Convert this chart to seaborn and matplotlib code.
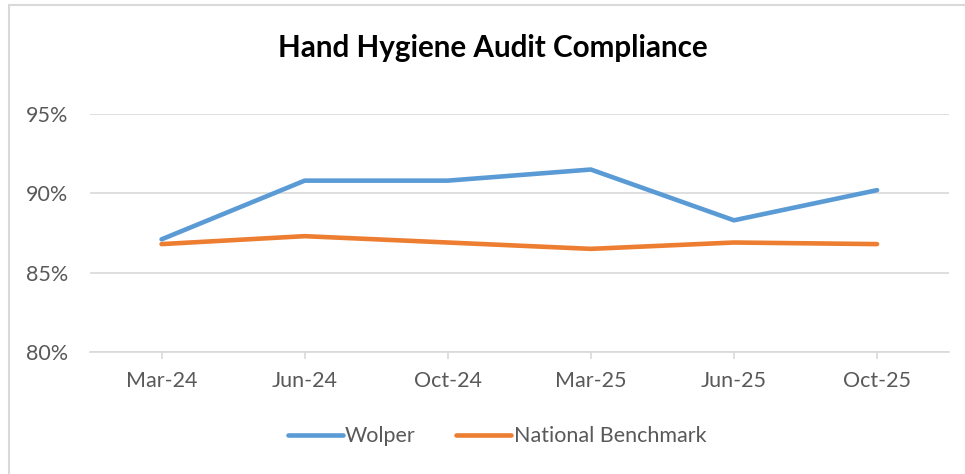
import pandas as pd
import seaborn as sns
import matplotlib.pyplot as plt
from matplotlib.lines import Line2D

months = ["Mar-24", "Jun-24", "Oct-24", "Mar-25", "Jun-25", "Oct-25"]
wolper = [87.1, 90.8, 90.8, 91.5, 88.3, 90.2]
benchmark = [86.8, 87.3, 86.9, 86.5, 86.9, 86.8]
series = ["Wolper", "National Benchmark"]
colors = ["#5B9BD5", "#ED7D31"]

df = pd.DataFrame({
    "Month": months * 2,
    "Compliance": wolper + benchmark,
    "Series": [series[0]] * len(months) + [series[1]] * len(months),
})
df["pos"] = list(range(len(months))) * 2

sns.set_style("white")
plt.rcParams["font.family"] = ["Lato", "DejaVu Sans"]

fig = plt.figure(figsize=(9.65, 4.74), dpi=100)
ax = fig.add_axes([0.0933, 0.2574, 0.8897, 0.5021])

sns.lineplot(data=df, x="pos", y="Compliance", hue="Series", palette=colors,
             linewidth=3.3, ax=ax, legend=False, solid_capstyle="round")

ax.set_xlim(-0.5, len(months) - 0.5)
ax.set_ylim(80, 95)
ax.set_yticks([80, 85, 90, 95])
ax.set_yticklabels([f"{v}%" for v in [80, 85, 90, 95]])
ax.set_xticks(range(len(months)))
ax.set_xticklabels(months)
ax.set_xlabel("")
ax.set_ylabel("")
ax.grid(axis="y", color="#D9D9D9", linewidth=1.2)
ax.set_axisbelow(True)
for s in ["top", "right", "left"]:
    ax.spines[s].set_visible(False)
ax.spines["bottom"].set_color("#D9D9D9")
ax.spines["bottom"].set_linewidth(1.2)
ax.tick_params(axis="y", length=0, labelsize=15.5, labelcolor="#595959", pad=16)
ax.tick_params(axis="x", length=5, color="#D9D9D9", width=1.2, labelsize=15.5,
               labelcolor="#595959", pad=9, direction="out", bottom=True)

fig.text(0.511, 0.899, "Hand Hygiene Audit Compliance", ha="center", va="center",
         fontsize=21.3, fontweight="bold", color="black")

handles = [Line2D([0], [0], color=c, linewidth=3.3, solid_capstyle="round") for c in colors]
fig.legend(handles, series, loc="center", bbox_to_anchor=(0.515, 0.08), ncol=2,
           frameon=False, fontsize=15.5, labelcolor="#595959", handlelength=2.55,
           handletextpad=0.1, columnspacing=1.9)

# chart area border (left and top visible)
fig.add_artist(Line2D([0.0098, 0.0098], [0, 0.989], color="#D9D9D9", linewidth=1.5))
fig.add_artist(Line2D([0.0098, 1.0], [0.989, 0.989], color="#D9D9D9", linewidth=1.5))

fig.savefig("out.png", dpi=100, facecolor="white")
